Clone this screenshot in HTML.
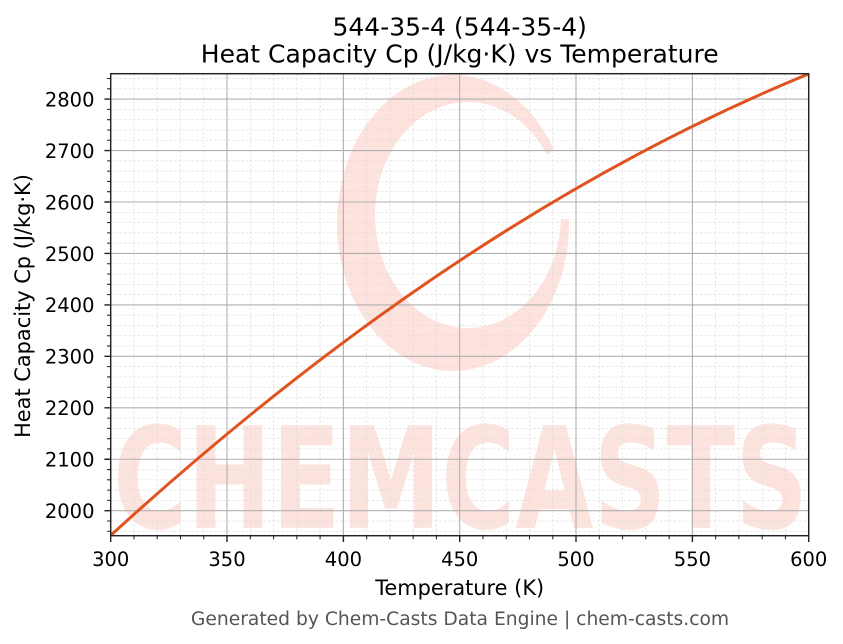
<!DOCTYPE html>
<html>
<head>
<meta charset="utf-8">
<style>
html,body{margin:0;padding:0;background:#fff;}
svg{display:block;}
text{font-family:"DejaVu Sans","Liberation Sans",sans-serif;}
</style>
</head>
<body>
<svg width="843" height="644" viewBox="0 0 843 644" xmlns="http://www.w3.org/2000/svg">
<defs>
  <clipPath id="ax"><rect x="110.7" y="73.7" width="698" height="462"/></clipPath>
  <mask id="ringmask">
    <rect x="0" y="0" width="843" height="644" fill="#000"/>
    <ellipse cx="453" cy="223" rx="116" ry="148" fill="#fff"/>
    <ellipse cx="468" cy="215" rx="93" ry="113" fill="#000"/>
    <polygon points="460,222 697,39 780,213" fill="#000"/>
  </mask>
</defs>
<rect width="843" height="644" fill="#fff"/>

<!-- watermark -->
<g clip-path="url(#ax)">
  <rect x="0" y="0" width="843" height="644" fill="#fde2dd" mask="url(#ringmask)"/>
  <text x="113" y="528" font-size="141" font-weight="bold" fill="#fde3de" textLength="695" lengthAdjust="spacingAndGlyphs">CHEMCASTS</text>
</g>

<!-- minor grid -->
<g stroke="#dcdcdc" stroke-width="0.7" stroke-dasharray="2.5,2" fill="none">
  <path d="M133.97 73.7V535.7M157.23 73.7V535.7M180.5 73.7V535.7M203.77 73.7V535.7M250.3 73.7V535.7M273.57 73.7V535.7M296.83 73.7V535.7M320.1 73.7V535.7M366.63 73.7V535.7M389.9 73.7V535.7M413.17 73.7V535.7M436.43 73.7V535.7M482.97 73.7V535.7M506.23 73.7V535.7M529.5 73.7V535.7M552.77 73.7V535.7M599.3 73.7V535.7M622.57 73.7V535.7M645.83 73.7V535.7M669.1 73.7V535.7M715.63 73.7V535.7M738.9 73.7V535.7M762.17 73.7V535.7M785.43 73.7V535.7"/>
  <path d="M110.7 531.28H808.7M110.7 520.99H808.7M110.7 500.41H808.7M110.7 490.12H808.7M110.7 479.83H808.7M110.7 469.54H808.7M110.7 448.96H808.7M110.7 438.67H808.7M110.7 428.38H808.7M110.7 418.09H808.7M110.7 397.51H808.7M110.7 387.22H808.7M110.7 376.93H808.7M110.7 366.64H808.7M110.7 346.06H808.7M110.7 335.77H808.7M110.7 325.48H808.7M110.7 315.19H808.7M110.7 294.61H808.7M110.7 284.32H808.7M110.7 274.03H808.7M110.7 263.74H808.7M110.7 243.16H808.7M110.7 232.87H808.7M110.7 222.58H808.7M110.7 212.29H808.7M110.7 191.71H808.7M110.7 181.42H808.7M110.7 171.13H808.7M110.7 160.84H808.7M110.7 140.26H808.7M110.7 129.97H808.7M110.7 119.68H808.7M110.7 109.39H808.7M110.7 88.81H808.7M110.7 78.52H808.7"/>
</g>
<!-- major grid -->
<g stroke="#b0b0b0" stroke-width="1.1" fill="none">
  <path d="M227 73.7V535.7M343.4 73.7V535.7M459.7 73.7V535.7M576 73.7V535.7M692.4 73.7V535.7"/>
  <path d="M110.7 510.7H808.7M110.7 459.25H808.7M110.7 407.8H808.7M110.7 356.35H808.7M110.7 304.9H808.7M110.7 253.45H808.7M110.7 202H808.7M110.7 150.55H808.7M110.7 99.1H808.7"/>
</g>

<!-- curve -->
<g clip-path="url(#ax)">
<path fill="none" stroke="#e0531f" stroke-width="3" stroke-linecap="round" d="M110.7,535.4 Q459.7,216.66 808.7,73.9"/>
</g>

<!-- spines -->
<rect x="110.7" y="73.7" width="698" height="462" fill="none" stroke="#222" stroke-width="1.45"/>

<!-- ticks -->
<g stroke="#222" stroke-width="1.4">
  <path d="M110.7 535.7V542M227 535.7V542M343.4 535.7V542M459.7 535.7V542M576 535.7V542M692.4 535.7V542M808.7 535.7V542"/>
  <path d="M104.4 510.7H110.7M104.4 459.25H110.7M104.4 407.8H110.7M104.4 356.35H110.7M104.4 304.9H110.7M104.4 253.45H110.7M104.4 202H110.7M104.4 150.55H110.7M104.4 99.1H110.7"/>
</g>
<g stroke="#222" stroke-width="1.05">
  <path d="M133.97 535.7V539.3M157.23 535.7V539.3M180.5 535.7V539.3M203.77 535.7V539.3M250.3 535.7V539.3M273.57 535.7V539.3M296.83 535.7V539.3M320.1 535.7V539.3M366.63 535.7V539.3M389.9 535.7V539.3M413.17 535.7V539.3M436.43 535.7V539.3M482.97 535.7V539.3M506.23 535.7V539.3M529.5 535.7V539.3M552.77 535.7V539.3M599.3 535.7V539.3M622.57 535.7V539.3M645.83 535.7V539.3M669.1 535.7V539.3M715.63 535.7V539.3M738.9 535.7V539.3M762.17 535.7V539.3M785.43 535.7V539.3"/>
  <path d="M107.1 531.28H110.7M107.1 520.99H110.7M107.1 500.41H110.7M107.1 490.12H110.7M107.1 479.83H110.7M107.1 469.54H110.7M107.1 448.96H110.7M107.1 438.67H110.7M107.1 428.38H110.7M107.1 418.09H110.7M107.1 397.51H110.7M107.1 387.22H110.7M107.1 376.93H110.7M107.1 366.64H110.7M107.1 346.06H110.7M107.1 335.77H110.7M107.1 325.48H110.7M107.1 315.19H110.7M107.1 294.61H110.7M107.1 284.32H110.7M107.1 274.03H110.7M107.1 263.74H110.7M107.1 243.16H110.7M107.1 232.87H110.7M107.1 222.58H110.7M107.1 212.29H110.7M107.1 191.71H110.7M107.1 181.42H110.7M107.1 171.13H110.7M107.1 160.84H110.7M107.1 140.26H110.7M107.1 129.97H110.7M107.1 119.68H110.7M107.1 109.39H110.7M107.1 88.81H110.7M107.1 78.52H110.7"/>
</g>

<!-- tick labels -->
<g font-size="19.5" fill="#000" text-anchor="middle">
  <text x="110.7" y="566">300</text>
  <text x="227" y="566">350</text>
  <text x="343.4" y="566">400</text>
  <text x="459.7" y="566">450</text>
  <text x="576" y="566">500</text>
  <text x="692.4" y="566">550</text>
  <text x="808.7" y="566">600</text>
</g>
<g font-size="19.5" fill="#000" text-anchor="end">
  <text x="94.5" y="518">2000</text>
  <text x="94.5" y="466.55">2100</text>
  <text x="94.5" y="415.1">2200</text>
  <text x="94.5" y="363.65">2300</text>
  <text x="94.5" y="312.2">2400</text>
  <text x="94.5" y="260.75">2500</text>
  <text x="94.5" y="209.3">2600</text>
  <text x="94.5" y="157.85">2700</text>
  <text x="94.5" y="106.4">2800</text>
</g>

<!-- axis labels -->
<text x="459.7" y="595" font-size="20.9" text-anchor="middle" fill="#000">Temperature (K)</text>
<text transform="translate(30,306) rotate(-90)" x="0" y="0" font-size="20.9" text-anchor="middle" fill="#000">Heat Capacity Cp (J/kg·K)</text>

<!-- title -->
<text x="459.7" y="35.5" font-size="25" text-anchor="middle" fill="#000">544-35-4 (544-35-4)</text>
<text x="459.7" y="62.5" font-size="25" text-anchor="middle" fill="#000">Heat Capacity Cp (J/kg·K) vs Temperature</text>

<!-- footer -->
<text x="460" y="625" font-size="18.7" text-anchor="middle" fill="#555">Generated by Chem-Casts Data Engine | chem-casts.com</text>
</svg>
</body>
</html>
